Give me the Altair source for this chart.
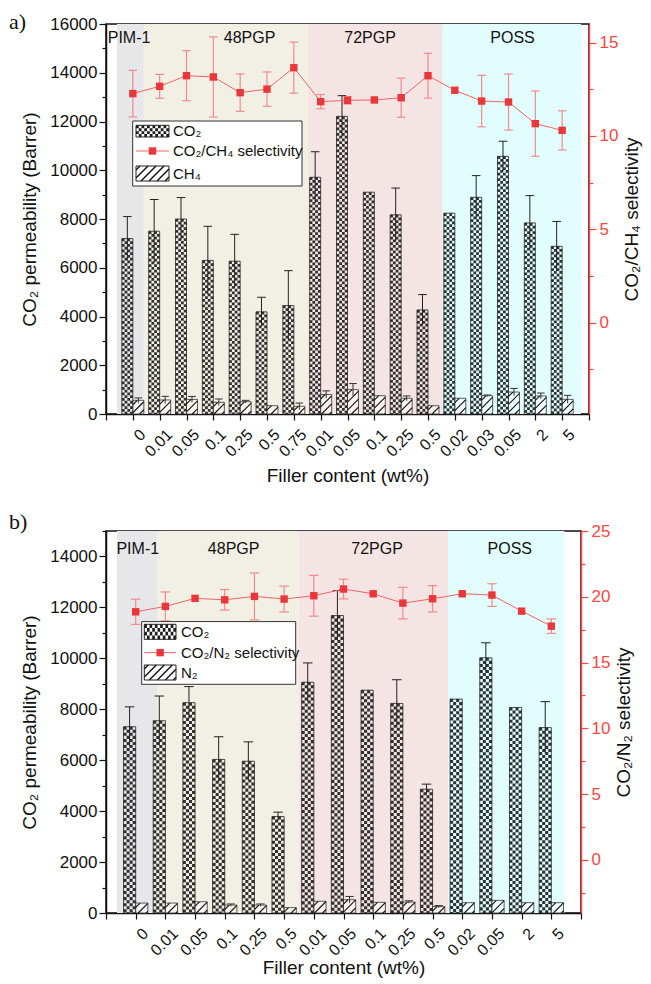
import json
import altair as alt
import pandas as pd

# ---------------- data: panel a (CO2 / CH4) ----------------
cats_a = ["0", "0.01", "0.05", "0.1", "0.25", "0.5", "0.75",
          "0.01", "0.05", "0.1", "0.25", "0.5",
          "0.02", "0.03", "0.05", "2", "5"]
co2_a = [7200, 7500, 8000, 6300, 6270, 4190, 4450, 9710, 12210, 9100, 8170, 4270,
         8240, 8890, 10570, 7840, 6880]
co2_err_a = [900, 1300, 880, 1400, 1100, 600, 1430, 1050, 850, 0, 1100, 630,
             0, 890, 620, 1120, 1020]
ch4_a = [560, 575, 600, 480, 505, 340, 315, 800, 1000, 750, 645, 340,
         645, 750, 900, 740, 600]
ch4_err_a = [100, 150, 120, 135, 55, 0, 135, 150, 250, 0, 95, 0,
             0, 30, 150, 120, 165]
sel_a = [12.27, 12.66, 13.23, 13.16, 12.32, 12.51, 13.66, 11.84, 11.91, 11.93, 12.05, 13.23,
         12.45, 11.87, 11.82, 10.66, 10.30]
sel_err_a = [1.25, 0.64, 1.34, 2.15, 1.0, 0.92, 1.37, 0.38, 0.2, 0, 1.05, 1.2,
             0, 1.38, 1.5, 1.75, 1.05]
grp_start_a = [0.41, 1.41, 7.53, 12.55]
grp_end_a = [1.41, 7.53, 12.55, 17.7]
grp_lab_a = [0.86, 5.35, 9.84, 15.15]

# ---------------- data: panel b (CO2 / N2) ----------------
cats_b = ["0", "0.01", "0.05", "0.1", "0.25", "0.5",
          "0.01", "0.05", "0.1", "0.25", "0.5",
          "0.02", "0.05", "2", "5"]
co2_b = [7315, 7550, 8260, 6030, 5960, 3790, 9060, 11680, 8750, 8230, 4860,
         8400, 10020, 8070, 7280]
co2_err_b = [780, 970, 630, 890, 760, 170, 760, 980, 0, 930, 200, 0, 590, 0, 1020]
n2_b = [390, 390, 440, 310, 310, 210, 460, 520, 420, 430, 250, 405, 495, 405, 405]
n2_err_b = [0, 0, 0, 45, 45, 0, 0, 130, 0, 50, 40, 0, 0, 0, 0]
sel_b = [18.86, 19.27, 19.88, 19.77, 20.03, 19.83, 20.08, 20.59, 20.23, 19.52, 19.85,
         20.23, 20.13, 18.91, 17.77]
sel_err_b = [0.96, 1.1, 0, 0.78, 1.78, 0.98, 1.55, 0.75, 0, 1.2, 1.0, 0, 0.86, 0, 0.55]
grp_start_b = [0.37, 1.74, 6.49, 11.52]
grp_end_b = [1.74, 6.49, 11.52, 15.44]
grp_lab_b = [1.07, 4.3, 9.13, 13.6]

groups = ["PIM-1", "48PGP", "72PGP", "POSS"]
group_colors = ["#e7e7e9", "#f2efe4", "#f4e4e3", "#e1fdfd"]

FONT = "Liberation Sans"
RED_AX = "#ff4545"
RED_PT = "#e8383b"
RED_LN = "#f26464"
RED_ERR = "#f08c8c"
DARK = "#1c1c1c"
DUMMY = pd.DataFrame({"d": [0]})


def seg(x0, y0, x1, y1, **kw):
    return alt.Chart(DUMMY).mark_rule(**kw).encode(
        x=alt.value(x0), x2=alt.value(x1), y=alt.value(y0), y2=alt.value(y1))


def box(x0, y0, x1, y1, **kw):
    return alt.Chart(DUMMY).mark_rect(**kw).encode(
        x=alt.value(x0), x2=alt.value(x1), y=alt.value(y0), y2=alt.value(y1))


def label(txt, x, y, **kw):
    return alt.Chart(DUMMY).mark_text(text=txt, **kw).encode(x=alt.value(x), y=alt.value(y))


def legend(L, gas_txt, sel_txt):
    out = [box(L["x0"], L["y0"], L["x1"], L["y1"], fill="white", stroke="#333", strokeWidth=1)]
    sx0, sx1 = L["sx0"], L["sx1"]
    t, b = L["c_top"], L["c_bot"]
    nr = 4
    ch = (b - t) / nr
    cw = (sx1 - sx0) / 12
    for k in range(nr):
        yy = t + (k + 0.5) * ch
        out.append(seg(sx0, yy, sx1, yy, color=DARK, strokeWidth=ch,
                       strokeDash=[cw, cw], strokeDashOffset=(cw if k % 2 else 0)))
    out.append(box(sx0, t, sx1, b, fill="transparent", stroke="#222", strokeWidth=1))
    ly = L["l_y"]
    out.append(seg(sx0, ly, sx1, ly, color=RED_LN, strokeWidth=1))
    out.append(alt.Chart(DUMMY).mark_square(size=55, color=RED_PT, opacity=1).encode(
        x=alt.value((sx0 + sx1) / 2), y=alt.value(ly)))
    t2, b2 = L["h_top"], L["h_bot"]
    w, h = sx1 - sx0, b2 - t2
    s = 8.0
    c = -h + 4.0
    while c < w:
        x1 = max(c, 0.0)
        x2 = min(w, h + c)
        if x2 - x1 > 0.5:
            out.append(seg(sx0 + x1, b2 - (x1 - c), sx0 + x2, b2 - (x2 - c), color="#111", strokeWidth=1.4))
        c += s
    out.append(box(sx0, t2, sx1, b2, fill="transparent", stroke="#222", strokeWidth=1))
    for txt, yy in zip(["CO₂", sel_txt, gas_txt], L["t_y"]):
        out.append(label(txt, L["tx"], yy, align="left", baseline="middle", fontSize=15,
                         font=FONT, color="#111"))
    return out


def make_panel(letter, letter_y, cats, co2, co2e, gas, gase, sel, sele, gas_txt, sel_txt, sel_title,
               gs, ge, gl, lab_y, W, H, ymax, rdom, rtop, leg, tpad):
    n = len(cats)
    xmax = n + 1
    pxx = W / xmax
    pxy = H / ymax
    bw = 0.41
    ncol = 4
    cell = bw * pxx / ncol
    xs = list(range(1, n + 1))
    xsc = alt.Scale(domain=[0, xmax], nice=False, zero=False)
    ysc = alt.Scale(domain=[0, ymax], nice=False)
    rsc = alt.Scale(domain=rdom, nice=False, zero=False)

    xlabels = json.dumps([""] + cats + [""])
    x_axis = alt.Axis(values=list(range(0, xmax + 1)), labelExpr=f"{xlabels}[datum.value]",
                      title="Filler content (wt%)", labelAngle=315, labelAlign="right",
                      labelBaseline="top", tickSize=6, labelPadding=6, labelOffset=4,
                      titlePadding=tpad, labelFontSize=16, labelOverlap=False,
                      labelFlush=False, labelBound=False)
    y_axis = alt.Axis(values=list(range(0, ymax + 1, 1000)), format="d",
                      labelExpr="datum.value % 2000 === 0 ? datum.label : ''",
                      tickSize={"condition": {"test": "datum.value % 2000 === 0", "value": 7}, "value": 4},
                      title="CO₂ permeability (Barrer)", titlePadding=10, labelPadding=2,
                      labelOverlap=False)
    rvals = [k * 2.5 for k in range(-1, int(rtop / 2.5) + 1)]
    r_axis = alt.Axis(orient="right", values=rvals, format="d",
                      labelExpr="datum.value % 5 === 0 ? datum.label : ''",
                      tickSize={"condition": {"test": "datum.value % 5 === 0", "value": 7}, "value": 4},
                      domainColor=RED_AX, tickColor=RED_AX, labelColor=RED_AX,
                      title=sel_title, titleAngle=270, titleBaseline="top", titlePadding=5,
                      labelPadding=3, labelOverlap=False)

    X = lambda f: alt.X(f, scale=xsc, axis=x_axis)
    Y = lambda f: alt.Y(f, scale=ysc, axis=y_axis)
    R = lambda f: alt.Y(f, scale=rsc, axis=r_axis)

    df = pd.DataFrame({"x": xs, "co2": co2, "co2e": co2e, "gas": gas, "gase": gase,
                       "sel": sel, "sele": sele})
    df["z"] = 0
    df["co2_l"] = df.x - bw
    df["co2_c"] = df.x - bw / 2
    df["gas_r"] = df.x + bw
    df["gas_c"] = df.x + bw / 2

    bg_df = pd.DataFrame({"g": groups, "s": gs, "e": ge, "c": group_colors, "lx": gl})
    bg = alt.Chart(bg_df).mark_rect().encode(
        x=X("s:Q"), x2="e:Q",
        y=alt.value(0), y2=alt.value(H), color=alt.Color("c:N", scale=None))
    glab = alt.Chart(bg_df).mark_text(fontSize=16, font=FONT, color="#111").encode(
        x=X("lx:Q"), y=alt.value(lab_y), text="g:N")

    rows = []
    for x, v in zip(xs, co2):
        for j in range(ncol):
            rows.append({"cx": x - bw + (j + 0.5) * bw / ncol, "v": v, "z": 0, "p": j % 2})
    ck = pd.DataFrame(rows)
    ck0 = alt.Chart(ck[ck.p == 0]).mark_rule(strokeWidth=cell, strokeDash=[cell, cell],
                                             color=DARK, opacity=0.9).encode(
        x=X("cx:Q"), y=Y("v:Q"), y2="z:Q")
    ck1 = alt.Chart(ck[ck.p == 1]).mark_rule(strokeWidth=cell, strokeDash=[cell, cell],
                                             strokeDashOffset=cell, color=DARK, opacity=0.9).encode(
        x=X("cx:Q"), y=Y("v:Q"), y2="z:Q")
    co2_box = alt.Chart(df).mark_rect(fill="transparent", stroke="#222", strokeWidth=0.8).encode(
        x=X("co2_l:Q"), x2="x:Q", y=Y("co2:Q"), y2="z:Q")

    e1 = df[df.co2e > 0].copy()
    e1["lo"] = e1.co2 - e1.co2e
    e1["hi"] = e1.co2 + e1.co2e
    e1["cl"] = e1.co2_c - 0.16
    e1["cr"] = e1.co2_c + 0.16
    co2_er = alt.Chart(e1).mark_rule(color="#222", strokeWidth=1).encode(
        x=X("co2_c:Q"), y=Y("lo:Q"), y2="hi:Q")
    co2_cap = alt.Chart(e1).mark_rule(color="#222", strokeWidth=1).encode(
        x=X("cl:Q"), x2="cr:Q", y=Y("hi:Q"))

    gas_box = alt.Chart(df).mark_rect(fill="white", fillOpacity=0.5, stroke="#333", strokeWidth=0.8).encode(
        x=X("x:Q"), x2="gas_r:Q", y=Y("gas:Q"), y2="z:Q")
    hrows = []
    s = 8.0
    wpx = bw * pxx
    for x, v in zip(xs, gas):
        h = v * pxy
        c = -h + s * 0.55
        while c < wpx:
            x1 = max(c, 0.0)
            x2 = min(wpx, h + c)
            if x2 - x1 > 0.5:
                hrows.append({"hx1": x + x1 / pxx, "hy1": (x1 - c) / pxy,
                              "hx2": x + x2 / pxx, "hy2": (x2 - c) / pxy})
            c += s
    hatch = alt.Chart(pd.DataFrame(hrows)).mark_rule(color="#111", strokeWidth=1.1).encode(
        x=X("hx1:Q"), x2="hx2:Q", y=Y("hy1:Q"), y2="hy2:Q")
    e2 = df[df.gase > 0].copy()
    e2["lo"] = e2.gas - e2.gase
    e2["hi"] = e2.gas + e2.gase
    e2["cl"] = e2.gas_c - 0.14
    e2["cr"] = e2.gas_c + 0.14
    gas_er = alt.Chart(e2).mark_rule(color="#333", strokeWidth=1).encode(
        x=X("gas_c:Q"), y=Y("lo:Q"), y2="hi:Q")
    gas_cap = alt.Chart(e2).mark_rule(color="#333", strokeWidth=1).encode(
        x=X("cl:Q"), x2="cr:Q", y=Y("hi:Q"))

    left = alt.layer(bg, glab, ck0, ck1, co2_box, co2_er, co2_cap, gas_box, hatch, gas_er, gas_cap)

    e3 = df[df.sele > 0].copy()
    e3["lo"] = e3.sel - e3.sele
    e3["hi"] = e3.sel + e3.sele
    e3["cl"] = e3.x - 0.16
    e3["cr"] = e3.x + 0.16
    s_er = alt.Chart(e3).mark_rule(color=RED_ERR, strokeWidth=1.2).encode(
        x=X("x:Q"), y=R("lo:Q"), y2="hi:Q")
    s_caph = alt.Chart(e3).mark_rule(color=RED_ERR, strokeWidth=1.2).encode(
        x=X("cl:Q"), x2="cr:Q", y=R("hi:Q"))
    s_capl = alt.Chart(e3).mark_rule(color=RED_ERR, strokeWidth=1.2).encode(
        x=X("cl:Q"), x2="cr:Q", y=R("lo:Q"))
    s_line = alt.Chart(df).mark_line(color=RED_LN, strokeWidth=1).encode(
        x=X("x:Q"), y=R("sel:Q"))
    s_pts = alt.Chart(df).mark_square(size=55, color=RED_PT, opacity=1).encode(
        x=X("x:Q"), y=R("sel:Q"))
    right = alt.layer(s_er, s_caph, s_capl, s_line, s_pts)

    extras = legend(leg, gas_txt, sel_txt)
    extras.append(label(letter, -97, letter_y, align="left", baseline="alphabetic",
                        font="Liberation Serif", fontSize=22, color="#111"))
    return alt.layer(left, right, *extras).resolve_scale(y="independent").properties(width=W, height=H)


leg_a = {"x0": 26.7, "y0": 97, "x1": 196, "y1": 162, "sx0": 30, "sx1": 63,
         "c_top": 101.3, "c_bot": 113, "l_y": 127, "h_top": 142, "h_bot": 157,
         "tx": 67, "t_y": [107, 127, 150]}
leg_b = {"x0": 35.7, "y0": 90.6, "x1": 189.7, "y1": 153.3, "sx0": 38.3, "sx1": 70,
         "c_top": 93.3, "c_bot": 108.3, "l_y": 121.6, "h_top": 134, "h_bot": 149,
         "tx": 75, "t_y": [101, 121.6, 141.5]}

pa = make_panel("a)", 5, cats_a, co2_a, co2_err_a, ch4_a, ch4_err_a, sel_a, sel_err_a,
                "CH₄", "CO₂/CH₄ selectivity", "CO₂/CH₄ selectivity",
                grp_start_a, grp_end_a, grp_lab_a, 14, 483, 390, 16000, [-4.9, 16], 15, leg_a, 7)
pb = make_panel("b)", -2, cats_b, co2_b, co2_err_b, n2_b, n2_err_b, sel_b, sel_err_b,
                "N₂", "CO₂/N₂ selectivity", "CO₂/N₂ selectivity",
                grp_start_b, grp_end_b, grp_lab_b, 17.5, 475, 382, 15000, [-4.03, 25], 25, leg_b, 0)

chart = alt.vconcat(pa, pb, spacing=23).properties(
    padding={"left": 0, "top": 2, "right": 0, "bottom": 0}
).configure_view(stroke="#111", strokeWidth=1.5).configure_axis(
    labelFont=FONT, titleFont=FONT, labelFontSize=17, titleFontSize=19,
    titleFontWeight="normal", grid=False, domainColor="#111", tickColor="#111",
    domainWidth=1.5, tickWidth=1.2, labelColor="#111", titleColor="#111"
)

chart.save("out.html", embed_options={"renderer": "svg", "actions": False})
